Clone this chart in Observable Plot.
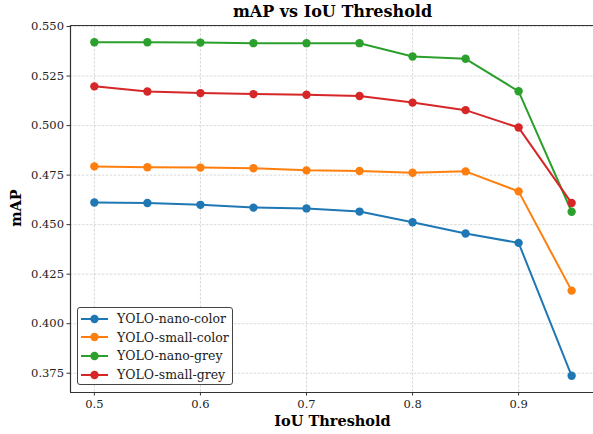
<!DOCTYPE html>
<html>
<head>
<meta charset="utf-8">
<script src="https://cdn.jsdelivr.net/npm/d3@7"></script>
<script src="https://cdn.jsdelivr.net/npm/@observablehq/plot@0.6"></script>
<style>
  html, body { margin: 0; padding: 0; background: #fff; }
  #wrap { position: relative; width: 593px; height: 434px; font-family: "DejaVu Serif", serif; }
  #title { position: absolute; left: 70px; width: 525px; top: 2px; text-align: center; font-weight: bold; font-size: 16px; color: #000; }
  #xlabel { position: absolute; left: 70px; width: 525px; top: 412px; text-align: center; font-weight: bold; font-size: 14.5px; color: #000; }
  #ylabel { position: absolute; left: 15px; top: 208px; transform: translate(-50%, -50%) rotate(-90deg); font-weight: bold; font-size: 14.5px; color: #000; white-space: nowrap; }
  #legend { position: absolute; left: 77px; top: 307px; width: 156px; height: 78px; box-sizing: border-box; border: 1px solid #444; border-radius: 3px; background: rgba(255,255,255,0.85); }
  .entry { position: absolute; left: 0; height: 18px; display: flex; align-items: center; font-size: 12.5px; color: #222; white-space: nowrap; }
  .entry svg { margin-left: 3px; margin-right: 9px; }
  svg { overflow: visible; }
</style>
</head>
<body>
<div id="wrap">
  <div id="title">mAP vs IoU Threshold</div>
  <div id="plot"></div>
  <div id="xlabel">IoU Threshold</div>
  <div id="ylabel">mAP</div>
  <div id="legend"></div>
</div>
<script>
const thresholds = [0.5, 0.55, 0.6, 0.65, 0.7, 0.75, 0.8, 0.85, 0.9, 0.95];
const seriesNames = ["YOLO-nano-color", "YOLO-small-color", "YOLO-nano-grey", "YOLO-small-grey"];
const nanoColor  = [0.4612, 0.4609, 0.4600, 0.4586, 0.4582, 0.4566, 0.4512, 0.4455, 0.4408, 0.3737];
const smallColor = [0.4794, 0.4790, 0.4788, 0.4785, 0.4774, 0.4771, 0.4762, 0.4769, 0.4668, 0.4167];
const nanoGrey   = [0.5421, 0.5421, 0.5419, 0.5416, 0.5416, 0.5416, 0.5349, 0.5337, 0.5173, 0.4565];
const smallGrey  = [0.5198, 0.5172, 0.5164, 0.5159, 0.5156, 0.5149, 0.5116, 0.5078, 0.4990, 0.4609];
const seriesColors = ["#1f77b4", "#ff7f0e", "#2ca02c", "#d62728"];
const xTicks = [0.5, 0.6, 0.7, 0.8, 0.9];
const yTicks = [0.375, 0.400, 0.425, 0.450, 0.475, 0.500, 0.525, 0.550];

const allValues = [nanoColor, smallColor, nanoGrey, smallGrey];
const rows = seriesNames.flatMap((name, i) =>
  thresholds.map((t, j) => ({series: name, iou: t, map: allValues[i][j]})));

const xs = d3.extent(thresholds), ys = d3.extent(rows, d => d.map);
const xPad = (xs[1] - xs[0]) * 0.05, yPad = (ys[1] - ys[0]) * 0.05;
const xDomain = [xs[0] - xPad, xs[1] + xPad];
const yDomain = [ys[0] - yPad, ys[1] + yPad];

const grid = {stroke: "#c8c8c8", strokeOpacity: 1, strokeWidth: 0.7, strokeDasharray: "2.5,1.5"};
const seriesMarks = seriesNames.flatMap((name, i) => {
  const d = rows.filter(r => r.series === name);
  return [
    Plot.line(d, {x: "iou", y: "map", stroke: seriesColors[i], strokeWidth: 2}),
    Plot.dot(d, {x: "iou", y: "map", fill: seriesColors[i], r: 4.2})
  ];
});

const chart = Plot.plot({
  width: 593,
  height: 434,
  marginTop: 25,
  marginLeft: 70,
  marginRight: 0,
  marginBottom: 42,
  style: {fontFamily: "DejaVu Serif", background: "transparent"},
  x: {domain: xDomain, range: [70, 595]},
  y: {domain: yDomain},
  marks: [
    Plot.gridX(xTicks, grid),
    Plot.gridY(yTicks, grid),
    ...seriesMarks,
    Plot.ruleX([xDomain[0]], {stroke: "#333", strokeWidth: 1.2}),
    Plot.ruleY([yDomain[0], yDomain[1]], {stroke: "#333", strokeWidth: 1.2}),
    Plot.axisX(xTicks, {tickFormat: d3.format(".1f"), tickSize: 3.5, tickPadding: 4, fontSize: 11.5, fontFamily: "DejaVu Serif", label: null, stroke: "#333", color: "#222"}),
    Plot.axisY(yTicks, {tickFormat: d3.format(".3f"), tickSize: 3.5, tickPadding: 3, fontSize: 11.5, fontFamily: "DejaVu Serif", label: null, stroke: "#333", color: "#222"})
  ]
});
document.getElementById("plot").appendChild(chart);

const legend = document.getElementById("legend");
seriesNames.forEach((name, i) => {
  const e = document.createElement("div");
  e.className = "entry";
  e.style.top = (1.5 + i * 18.7) + "px";
  e.innerHTML = `<svg width="27" height="10"><line x1="0" x2="27" y1="5" y2="5" stroke="${seriesColors[i]}" stroke-width="2"/><circle cx="13.5" cy="5" r="4.2" fill="${seriesColors[i]}"/></svg><span>${name}</span>`;
  legend.appendChild(e);
});
</script>
</body>
</html>
